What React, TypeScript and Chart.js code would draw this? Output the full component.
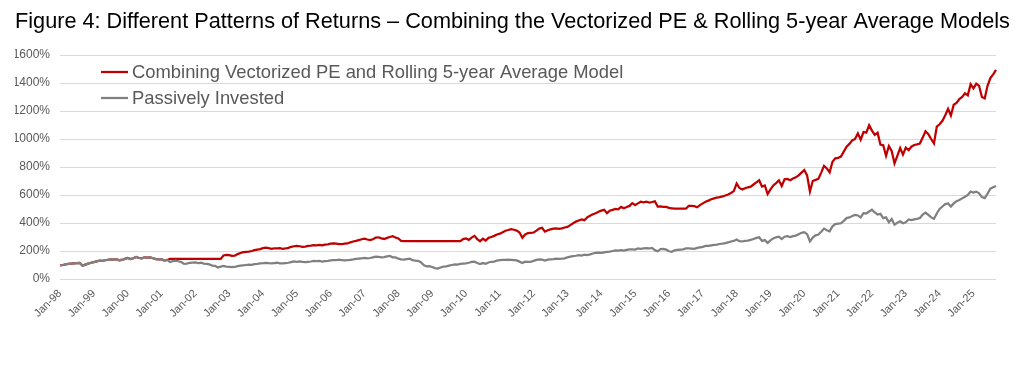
import { useEffect, useRef } from 'react';
import { Chart, registerables } from 'chart.js';

Chart.register(...registerables);

const TITLE =
  'Figure 4: Different Patterns of Returns – Combining the Vectorized PE & Rolling 5-year Average Models';

const SERIES_MODEL = 'Combining Vectorized PE and Rolling 5-year Average Model';
const SERIES_PASSIVE = 'Passively Invested';

const MONTHS = ['Jan', 'Feb', 'Mar', 'Apr', 'May', 'Jun', 'Jul', 'Aug', 'Sep', 'Oct', 'Nov', 'Dec'];
const YEARS = ['98', '99', '00', '01', '02', '03', '04', '05', '06', '07', '08', '09', '10', '11', '12', '13', '14', '15', '16', '17', '18', '19', '20', '21', '22', '23', '24', '25'];

const Y_TICKS = [0, 200, 400, 600, 800, 1000, 1200, 1400, 1600];

// Cumulative value (%), monthly, Jan-98 .. Sep-25
const modelValues = [
  97, 100, 104, 108, 110, 112, 114, 115, 95, 103, 110, 116, // 1998
  120, 126, 131, 130, 134, 137, 140, 138, 142, 134, 136, 144, // 1999
  150, 143, 148, 157, 150, 148, 155, 152, 154, 148, 142, 140, // 2000
  141, 132, 136, 143, 143, 143, 143, 143, 143, 143, 143, 143, // 2001
  143, 143, 143, 143, 143, 143, 143, 143, 143, 143, 168, 172, // 2002
  170, 165, 166, 178, 186, 192, 194, 196, 200, 206, 210, 214, // 2003
  220, 224, 220, 216, 218, 219, 220, 216, 218, 222, 230, 234, // 2004
  236, 234, 230, 232, 236, 238, 242, 240, 244, 240, 246, 248, // 2005
  252, 254, 252, 250, 250, 252, 254, 262, 268, 272, 278, 284, // 2006
  288, 282, 278, 284, 296, 298, 290, 286, 294, 300, 306, 296, // 2007
  290, 272, 271, 271, 271, 271, 271, 271, 271, 271, 271, 271, // 2008
  271, 271, 271, 271, 271, 271, 271, 271, 271, 271, 271, 285, // 2009
  290, 280, 296, 308, 285, 270, 288, 275, 294, 300, 308, 318, // 2010
  324, 334, 345, 350, 356, 352, 346, 332, 295, 318, 328, 330, // 2011
  332, 345, 360, 366, 338, 348, 354, 360, 362, 358, 362, 368, // 2012
  372, 385, 398, 410, 418, 425, 420, 440, 452, 462, 470, 480, // 2013
  488, 494, 470, 488, 494, 500, 498, 515, 505, 514, 522, 542, // 2014
  528, 540, 552, 548, 552, 546, 550, 555, 517, 518, 516, 515, // 2015
  508, 505, 502, 502, 502, 502, 502, 522, 522, 520, 512, 528, // 2016
  540, 552, 560, 570, 576, 582, 585, 590, 596, 604, 614, 628, // 2017
  682, 650, 640, 648, 655, 660, 675, 690, 705, 660, 668, 607, // 2018
  640, 668, 685, 705, 664, 712, 715, 705, 718, 726, 740, 760, // 2019
  778, 740, 625, 700, 708, 715, 760, 808, 790, 762, 838, 862, // 2020
  865, 874, 910, 945, 965, 990, 1000, 1040, 995, 1050, 1045, 1098, // 2021
  1060, 1030, 1045, 960, 955, 880, 950, 915, 826, 880, 935, 888, // 2022
  938, 920, 945, 957, 962, 968, 1010, 1055, 1035, 1000, 968, 1088, // 2023
  1105, 1130, 1170, 1215, 1168, 1245, 1258, 1285, 1300, 1326, 1312, 1392, // 2024
  1362, 1395, 1380, 1300, 1290, 1380, 1435, 1462, 1493, // 2025
];

const passiveValues = [
  97, 100, 104, 108, 110, 112, 114, 115, 95, 103, 110, 116, // 1998
  120, 126, 131, 130, 134, 137, 140, 138, 142, 134, 136, 144, // 1999
  150, 143, 148, 157, 150, 148, 155, 152, 154, 148, 142, 140, // 2000
  141, 132, 136, 121, 128, 131, 127, 121, 108, 110, 116, 117, // 2001
  118, 114, 116, 110, 108, 104, 96, 94, 82, 88, 94, 89, // 2002
  87, 85, 86, 92, 96, 98, 100, 102, 101, 106, 108, 112, // 2003
  113, 115, 113, 112, 114, 116, 112, 111, 114, 116, 121, 125, // 2004
  123, 125, 122, 120, 123, 125, 129, 127, 129, 125, 128, 130, // 2005
  133, 134, 135, 138, 134, 133, 134, 137, 140, 144, 146, 148, // 2006
  150, 148, 150, 155, 160, 158, 155, 157, 162, 165, 155, 154, // 2007
  145, 140, 138, 142, 146, 135, 132, 130, 120, 100, 90, 92, // 2008
  86, 78, 74, 82, 88, 90, 96, 100, 104, 103, 108, 110, // 2009
  112, 116, 122, 124, 114, 107, 114, 109, 118, 123, 124, 132, // 2010
  134, 136, 137, 139, 137, 135, 133, 124, 114, 124, 123, 122, // 2011
  130, 136, 140, 138, 132, 138, 140, 142, 146, 144, 145, 148, // 2012
  155, 160, 164, 166, 170, 167, 174, 171, 176, 182, 186, 189, // 2013
  186, 190, 193, 196, 200, 204, 202, 206, 203, 208, 212, 212, // 2014
  210, 218, 216, 218, 220, 218, 222, 206, 198, 214, 215, 210, // 2015
  198, 194, 205, 208, 210, 212, 218, 218, 217, 215, 222, 226, // 2016
  230, 236, 236, 240, 244, 246, 250, 252, 256, 262, 268, 272, // 2017
  282, 270, 268, 272, 274, 280, 286, 294, 298, 272, 278, 258, // 2018
  276, 290, 298, 302, 285, 302, 306, 300, 306, 310, 320, 330, // 2019
  335, 320, 268, 296, 312, 318, 338, 360, 348, 340, 376, 392, // 2020
  395, 398, 415, 435, 440, 450, 458, 454, 440, 470, 468, 482, // 2021
  495, 475, 460, 465, 435, 440, 405, 428, 388, 402, 412, 398, // 2022
  405, 425, 420, 426, 430, 436, 460, 474, 458, 440, 430, 468, // 2023
  500, 518, 535, 540, 518, 540, 556, 564, 576, 588, 600, 624, // 2024
  618, 624, 612, 585, 578, 610, 645, 655, 664, // 2025
];

const categories: string[] = [];
YEARS.forEach((yy) => MONTHS.forEach((mm) => categories.push(`${mm}-${yy}`)));
const labels = categories.slice(0, passiveValues.length);

const FONT = '"Liberation Sans", Arial, sans-serif';

// Title and in-plot legend drawn on the canvas (title may extend past the plot's right edge)
const titleAndLegend = {
  id: 'titleAndLegend',
  afterDraw(chart: any) {
    const { ctx, chartArea } = chart;
    ctx.save();
    ctx.textAlign = 'left';
    ctx.textBaseline = 'middle';
    ctx.fillStyle = '#000000';
    ctx.font = `21.7px ${FONT}`;
    ctx.fillText(TITLE, 15, 22);

    ctx.font = `18.4px ${FONT}`;
    [0, 1].forEach((di, i) => {
      const ds = chart.data.datasets[di];
      const y = chartArea.top + 17 + i * 26;
      const x0 = chartArea.left + 41;
      ctx.strokeStyle = ds.borderColor;
      ctx.lineWidth = 2.25;
      ctx.beginPath();
      ctx.moveTo(x0, y);
      ctx.lineTo(x0 + 27, y);
      ctx.stroke();
      ctx.fillStyle = '#595959';
      ctx.fillText(ds.label, x0 + 31, y + 1);
    });
    ctx.restore();
  },
};

export default function App() {
  const ref = useRef<HTMLCanvasElement | null>(null);

  useEffect(() => {
    document.body.style.margin = '0';
    const canvas = ref.current;
    if (!canvas) return;
    const chart = new Chart(canvas, {
      type: 'line',
      data: {
        labels,
        datasets: [
          {
            label: SERIES_MODEL,
            data: modelValues,
            borderColor: '#C00000',
            backgroundColor: '#C00000',
            borderWidth: 2.25,
            pointRadius: 0,
            tension: 0,
            order: 1,
          },
          {
            label: SERIES_PASSIVE,
            data: passiveValues,
            borderColor: '#808080',
            backgroundColor: '#808080',
            borderWidth: 2.25,
            pointRadius: 0,
            tension: 0,
            order: 0,
          },
        ],
      },
      options: {
        responsive: false,
        animation: false,
        devicePixelRatio: 1,
        layout: { padding: { left: 15, right: 28, top: 55, bottom: 53 } },
        plugins: {
          legend: { display: false },
          tooltip: { enabled: false },
          title: { display: false },
        },
        scales: {
          x: {
            type: 'category',
            grid: { display: false, drawTicks: false },
            border: { display: false },
            ticks: {
              autoSkip: false,
              maxRotation: 45,
              minRotation: 45,
              color: '#595959',
              font: { family: FONT, size: 11 },
              padding: 8,
              callback: (_v: any, i: number) => (i % 12 === 0 ? labels[i] : ''),
            },
            afterFit: (s: any) => {
              s.height = 40;
            },
          },
          y: {
            min: Y_TICKS[0],
            max: Y_TICKS[Y_TICKS.length - 1],
            grid: { color: '#D9D9D9', lineWidth: 1, drawTicks: false },
            border: { display: false },
            ticks: {
              stepSize: Y_TICKS[1] - Y_TICKS[0],
              color: '#595959',
              font: { family: FONT, size: 12 },
              padding: 10,
              callback: (v: any) => `${v}%`,
            },
            afterFit: (s: any) => {
              s.width = 45;
            },
          },
        },
      },
      plugins: [titleAndLegend],
    });
    return () => chart.destroy();
  }, []);

  return (
    <div style={{ width: 1024, height: 372, background: '#ffffff' }}>
      <canvas ref={ref} width={1024} height={372} style={{ display: 'block' }} />
    </div>
  );
}
